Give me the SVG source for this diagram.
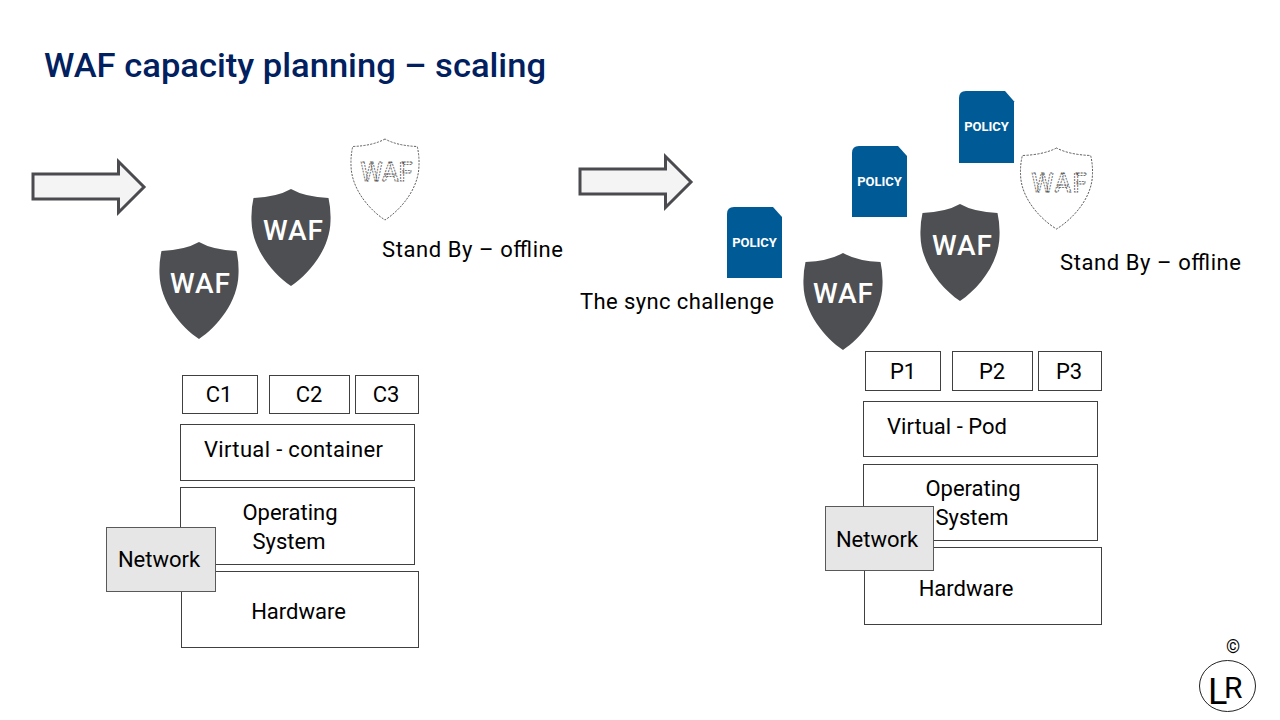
<svg xmlns="http://www.w3.org/2000/svg" width="1280" height="720" viewBox="0 0 1280 720">
<style>
text{font-family:Roboto,"Liberation Sans",sans-serif;font-size:22px;fill:#000}
.c{text-anchor:middle}
.box{fill:#fff;stroke:#404040;stroke-width:1}
.net{fill:#e6e6e6;stroke:#595959;stroke-width:1}
.sh{fill:#4e4f53}
.wf{font-size:28px;fill:#fff;text-anchor:middle;font-weight:500}
.off{fill:#fff;stroke:#444;stroke-width:1;stroke-dasharray:2.5 1.5}
.wo{font-size:25px;fill:#fff;stroke:#555;stroke-width:.8;stroke-dasharray:2 1;text-anchor:middle;font-weight:500}
.pol{fill:#005a96}
.pt{font-size:13px;font-weight:700;fill:#fff;text-anchor:middle}
.arr{fill:#f4f4f4;stroke:#4a4a4f;stroke-width:3}
</style>
<defs>
<path id="shield" d="M0 0Q-14 8-37.5 9Q-40 20-39.5 32C-39 60-18 85 0 97C18 85 39 60 39.5 32Q40 20 37.5 9Q14 8 0 0Z"/>
<path id="policy" d="M7 0H46L55 10V71H0V7Q0 0 7 0Z"/>
</defs>
<g id="title"><text x="44" y="77" textLength="502" lengthAdjust="spacingAndGlyphs" style="font-size:33px;font-weight:500;fill:#002060">WAF capacity planning – scaling</text></g>
<g id="connectors">
<path class="arr" d="M33 174H118.5V161.5L144 187L118.5 212.5V199H33Z"/>
<path class="arr" d="M580 169H665.5V156.5L691 182L665.5 207.5V194H580Z"/>
</g>
<g id="waf-l1"><use href="#shield" class="sh" transform="translate(199 242)"/><text class="wf" x="200" y="293" textLength="60">WAF</text></g>
<g id="waf-l2"><use href="#shield" class="sh" transform="translate(291 189)"/><text class="wf" x="293" y="240" textLength="60">WAF</text></g>
<g id="waf-l3"><use href="#shield" class="off" transform="translate(385 139) scale(.86 .835)"/><text class="wo" x="386.500" y="181" textLength="52">WAF</text></g>
<g id="standby-l"><text x="382" y="257" textLength="181">Stand By – offline</text></g>
<g id="c1"><rect class="box" x="182.500" y="375.500" width="75" height="38"/><text class="c" x="219" y="402">C1</text></g>
<g id="c2"><rect class="box" x="269.500" y="375.500" width="80" height="38"/><text class="c" x="309" y="402">C2</text></g>
<g id="c3"><rect class="box" x="355.500" y="375.500" width="63" height="38"/><text class="c" x="386" y="402">C3</text></g>
<g id="virt-l"><rect class="box" x="180.500" y="424.500" width="234" height="56"/><text x="204" y="457" textLength="179">Virtual - container</text></g>
<g id="os-l"><rect class="box" x="180.500" y="487.500" width="234" height="77"/><text class="c" x="290" y="520">Operating</text><text class="c" x="289" y="549">System</text></g>
<g id="hw-l"><rect class="box" x="181.500" y="571.500" width="237" height="76"/><text class="c" x="298.500" y="619">Hardware</text></g>
<g id="net-l"><rect class="net" x="106.500" y="527.500" width="109" height="64"/><text class="c" x="159" y="567">Network</text></g>
<g id="pol-1"><use href="#policy" class="pol" transform="translate(727 207)"/><text class="pt" x="754.500" y="247">POLICY</text></g>
<g id="pol-2"><use href="#policy" class="pol" transform="translate(852 146)"/><text class="pt" x="879.500" y="186">POLICY</text></g>
<g id="pol-3"><use href="#policy" class="pol" transform="translate(959 91) scale(1 1.014)"/><text class="pt" x="986.500" y="131">POLICY</text></g>
<g id="waf-r1"><use href="#shield" class="sh" transform="translate(843 253)"/><text class="wf" x="843" y="303" textLength="60">WAF</text></g>
<g id="waf-r2"><use href="#shield" class="sh" transform="translate(960 204)"/><text class="wf" x="962" y="255" textLength="60">WAF</text></g>
<g id="waf-r3"><use href="#shield" class="off" transform="translate(1056.500 148) scale(.91 .835)"/><text class="wo" x="1059" y="192" textLength="55">WAF</text></g>
<g id="sync"><text x="580" y="309" textLength="194">The sync challenge</text></g>
<g id="standby-r"><text x="1060" y="270" textLength="181">Stand By – offline</text></g>
<g id="p1"><rect class="box" x="865.500" y="351.500" width="75" height="39"/><text class="c" x="903" y="379">P1</text></g>
<g id="p2"><rect class="box" x="952.500" y="351.500" width="80" height="39"/><text class="c" x="992" y="379">P2</text></g>
<g id="p3"><rect class="box" x="1038.500" y="351.500" width="63" height="39"/><text class="c" x="1069" y="379">P3</text></g>
<g id="virt-r"><rect class="box" x="863.500" y="401.500" width="234" height="55"/><text x="887" y="434" textLength="120">Virtual - Pod</text></g>
<g id="os-r"><rect class="box" x="863.500" y="464.500" width="234" height="76"/><text class="c" x="973" y="496">Operating</text><text class="c" x="972" y="525">System</text></g>
<g id="hw-r"><rect class="box" x="864.500" y="547.500" width="237" height="77"/><text class="c" x="966" y="596">Hardware</text></g>
<g id="net-r"><rect class="net" x="825.500" y="506.500" width="108" height="64"/><text class="c" x="877" y="547">Network</text></g>
<g id="logo"><ellipse cx="1227.500" cy="686" rx="28" ry="25.500" fill="#fff" stroke="#222" stroke-width="1"/><text x="1208" y="704" style="font-size:36px">L</text><text x="1224" y="698" style="font-size:30px">R</text><text class="c" x="1233" y="653" style="font-size:18px">©</text></g>
</svg>
